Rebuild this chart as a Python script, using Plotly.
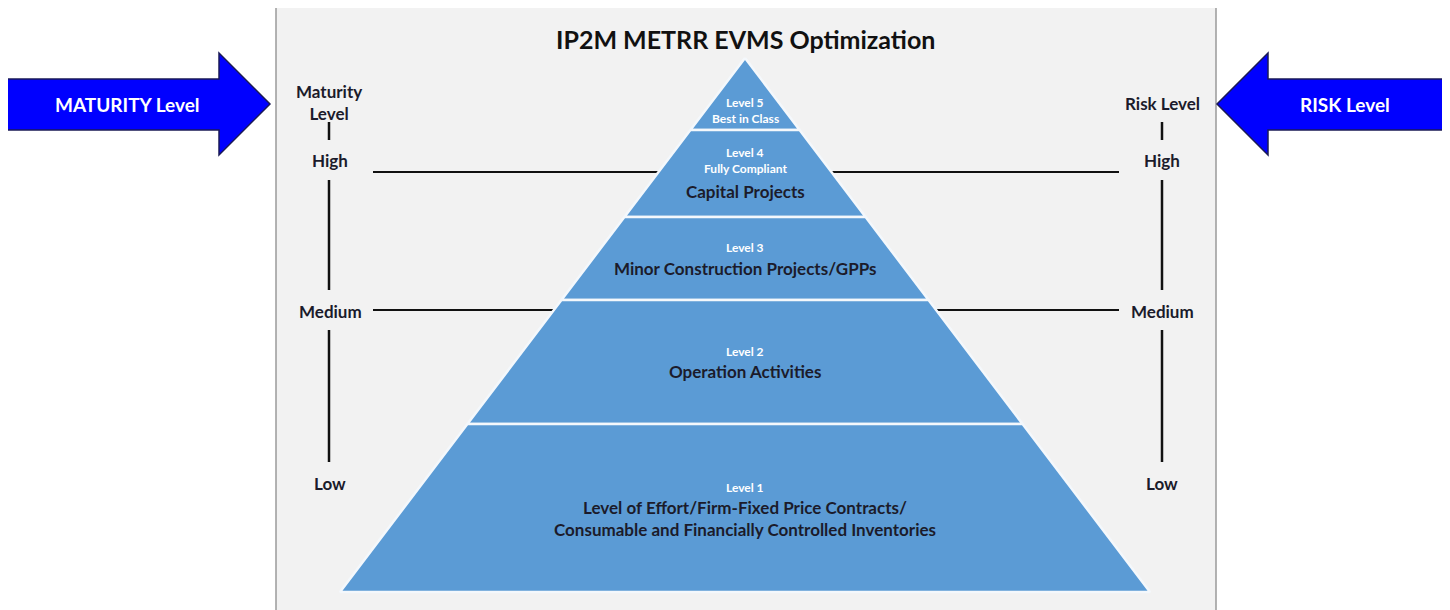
import plotly.graph_objects as go

# ---------------- data ----------------
title_text = "IP2M METRR EVMS Optimization"
tier_levels = ["Level 5", "Level 4", "Level 3", "Level 2", "Level 1"]
tier_subtitles = ["Best in Class", "Fully Compliant", "", "", ""]
tier_descriptions = [
    "",
    "Capital Projects",
    "Minor Construction Projects/GPPs",
    "Operation Activities",
    "Level of Effort/Firm-Fixed Price Contracts/<br>Consumable and Financially Controlled Inventories",
]
# tier boundaries (depth from apex to base, diagram units)
tier_bounds = [58, 130, 217, 300, 424, 592]
scale_labels = ["High", "Medium", "Low"]
left_scale_title = "Maturity<br>Level"
right_scale_title = "Risk Level"
left_arrow_text = "MATURITY Level"
right_arrow_text = "RISK Level"

# ---------------- geometry / style ----------------
W, H = 1450, 610
OFF = 8  # page body margin
APEX_X = 745
BASE_HALF = 405
PYR_COLOR = "#5B9BD5"
DARK = "#1b1b2b"
FONT = "Lato"


def half_width(y):
    return (y - tier_bounds[0]) * BASE_HALF / (tier_bounds[-1] - tier_bounds[0])


fig = go.Figure()
shapes = []
annotations = []

# panel
shapes.append(dict(type="rect", x0=276, x1=1216, y0=5, y1=615, xref="x", yref="y",
                   fillcolor="#f2f2f2", line=dict(color="#9a9a9a", width=1.5), layer="below"))

# scale lines (behind pyramid)
line_style = dict(color="#111111", width=2)
for y in [172, 310]:
    shapes.append(dict(type="line", x0=373, x1=1119, y0=y, y1=y, xref="x", yref="y",
                       line=line_style, layer="below"))
for xs in [329, 1162]:
    for (ya, yb) in [(122, 140), (180, 290), (330, 462)]:
        shapes.append(dict(type="line", x0=xs, x1=xs, y0=ya, y1=yb, xref="x", yref="y",
                           line=dict(color="#111111", width=2.5), layer="below"))

# pyramid tiers
for i in range(len(tier_levels)):
    yt, yb = tier_bounds[i], tier_bounds[i + 1]
    ht, hb = half_width(yt), half_width(yb)
    fig.add_trace(go.Scatter(
        x=[APEX_X - ht, APEX_X + ht, APEX_X + hb, APEX_X - hb, APEX_X - ht],
        y=[yt, yt, yb, yb, yt],
        mode="lines", fill="toself", fillcolor=PYR_COLOR,
        line=dict(color="#f4f8fc", width=2.5),
        hoverinfo="skip", showlegend=False))

# tier texts: (level y, subtitle y, description y)
tier_text_y = [(102, 118, None), (152, 168, 191), (247, None, 268), (351, None, 371), (487, None, 518)]
for i, (ly, sy, dy) in enumerate(tier_text_y):
    annotations.append(dict(x=APEX_X, y=ly, text=f"<b>{tier_levels[i]}</b>", showarrow=False,
                            font=dict(family=FONT, size=12, color="white"), xref="x", yref="y"))
    if sy is not None and tier_subtitles[i]:
        annotations.append(dict(x=APEX_X, y=sy, text=f"<b>{tier_subtitles[i]}</b>", showarrow=False,
                                font=dict(family=FONT, size=12, color="white"), xref="x", yref="y"))
    if dy is not None and tier_descriptions[i]:
        annotations.append(dict(x=APEX_X, y=dy, text=f"<b>{tier_descriptions[i]}</b>", showarrow=False,
                                font=dict(family=FONT, size=17, color=DARK), xref="x", yref="y"))

# scale labels
label_font = dict(family=FONT, size=17, color=DARK)
annotations.append(dict(x=329, y=102, text=f"<b>{left_scale_title}</b>", showarrow=False,
                        font=label_font, xref="x", yref="y"))
annotations.append(dict(x=1162, y=103, text=f"<b>{right_scale_title}</b>", showarrow=False,
                        font=label_font, xref="x", yref="y"))
for lab, y in zip(scale_labels, [160, 311, 483]):
    annotations.append(dict(x=330, y=y, text=f"<b>{lab}</b>", showarrow=False, font=label_font,
                            xref="x", yref="y"))
    annotations.append(dict(x=1162, y=y, text=f"<b>{lab}</b>", showarrow=False, font=label_font,
                            xref="x", yref="y"))

# title
annotations.append(dict(x=APEX_X, y=39, text=f"<b>{title_text}</b>", showarrow=False,
                        font=dict(family=FONT, size=25, color="#111111"), xref="x", yref="y"))

# arrows
arrow_fill = "#0000FF"
arrow_line = dict(color="#1a1a55", width=1.5)
shapes.append(dict(type="path", xref="x", yref="y",
                   path="M 7 79 L 219 79 L 219 53 L 270 104 L 219 155 L 219 130 L 7 130 Z",
                   fillcolor=arrow_fill, line=arrow_line))
shapes.append(dict(type="path", xref="x", yref="y",
                   path="M 1446 79 L 1268 79 L 1268 53 L 1217 104 L 1268 155 L 1268 130 L 1446 130 Z",
                   fillcolor=arrow_fill, line=arrow_line))
annotations.append(dict(x=127, y=104, text=f"<b>{left_arrow_text}</b>", showarrow=False,
                        font=dict(family=FONT, size=19, color="white"), xref="x", yref="y"))
annotations.append(dict(x=1345, y=104, text=f"<b>{right_arrow_text}</b>", showarrow=False,
                        font=dict(family=FONT, size=19, color="white"), xref="x", yref="y"))

fig.update_layout(
    width=W - OFF, height=H - OFF,
    margin=dict(l=0, r=0, t=0, b=0),
    paper_bgcolor="white", plot_bgcolor="white",
    xaxis=dict(range=[OFF, W], visible=False, fixedrange=True),
    yaxis=dict(range=[H, OFF], visible=False, fixedrange=True),
    shapes=shapes, annotations=annotations,
    showlegend=False,
)
fig.write_html("out.html")
